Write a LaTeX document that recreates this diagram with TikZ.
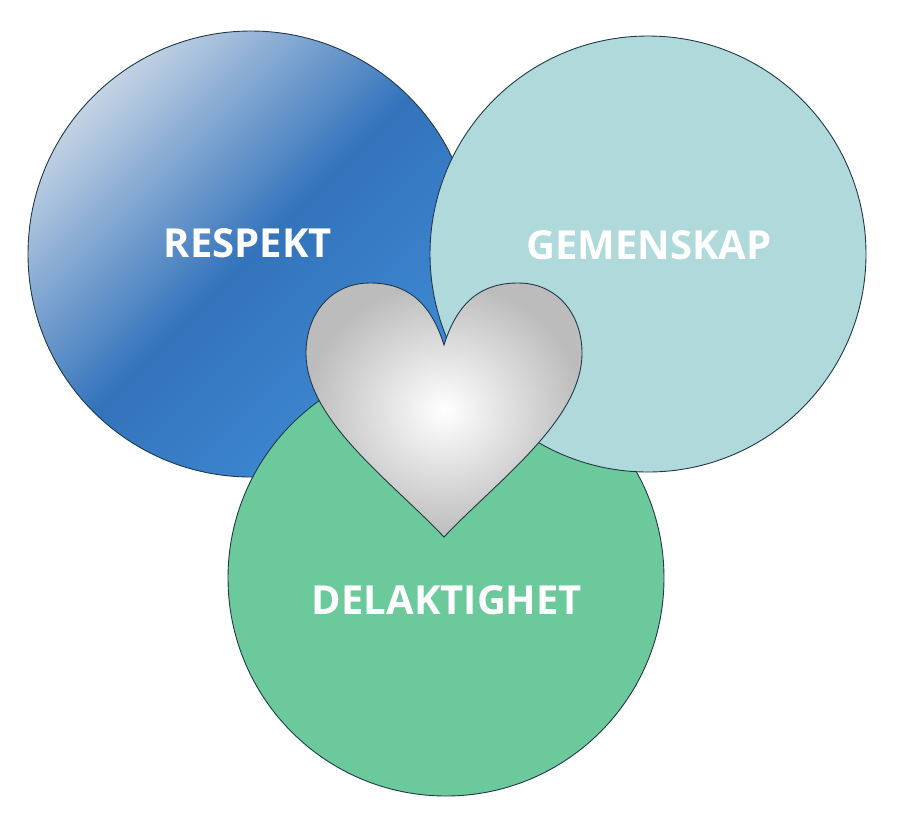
\documentclass[tikz,border=0pt]{standalone}
\usepackage{fontspec}
\setsansfont{Open Sans}
\usepackage{tikz}
\definecolor{respektlight}{HTML}{C4D3E4}
\definecolor{respektblue}{HTML}{3373BB}
\definecolor{respektlow}{HTML}{3E8BD6}
\definecolor{gemenskapteal}{HTML}{B0D9DB}
\definecolor{delaktgreen}{HTML}{6CC99B}
\definecolor{rim}{HTML}{213847}
\definecolor{heartgrey}{HTML}{BCBCBC}

\begin{document}
\begin{tikzpicture}[x=1pt, y=-1pt,
    ring/.style={draw=rim, line width=0.9pt, shape=circle, inner sep=0pt},
    word/.style={text=white, inner sep=0pt, font=\sffamily\bfseries\fontsize{40}{48}\selectfont}]
  \useasboundingbox (0,0) rectangle (907,820);
  \node[ring, minimum size=446pt, top color=respektlight, bottom color=respektlow,
        middle color=respektblue, shading angle=45]   (c0) at (251,254) {};
  \node[ring, minimum size=436pt, fill=delaktgreen]   (c2) at (446,578) {};
  \node[ring, minimum size=436pt, fill=gemenskapteal] (c1) at (648,254) {};
  \draw[draw=rim, line width=0.9pt, inner color=white, outer color=heartgrey]
    (444,345) .. controls (430,300) and (405,283) .. (370,283)
              .. controls (330,283) and (306,315) .. (306,353)
              .. controls (306,420) and (390,480) .. (444,537)
              .. controls (498,480) and (582,420) .. (582,353)
              .. controls (582,315) and (558,283) .. (518,283)
              .. controls (483,283) and (458,300) .. (444,345) -- cycle;
  \node[word] (t0) at (248,243) {RESPEKT};
  \node[word] (t1) at (649,245) {GEMENSKAP};
  \node[word] (t2) at (447,600) {DELAKTIGHET};
\end{tikzpicture}
\end{document}
